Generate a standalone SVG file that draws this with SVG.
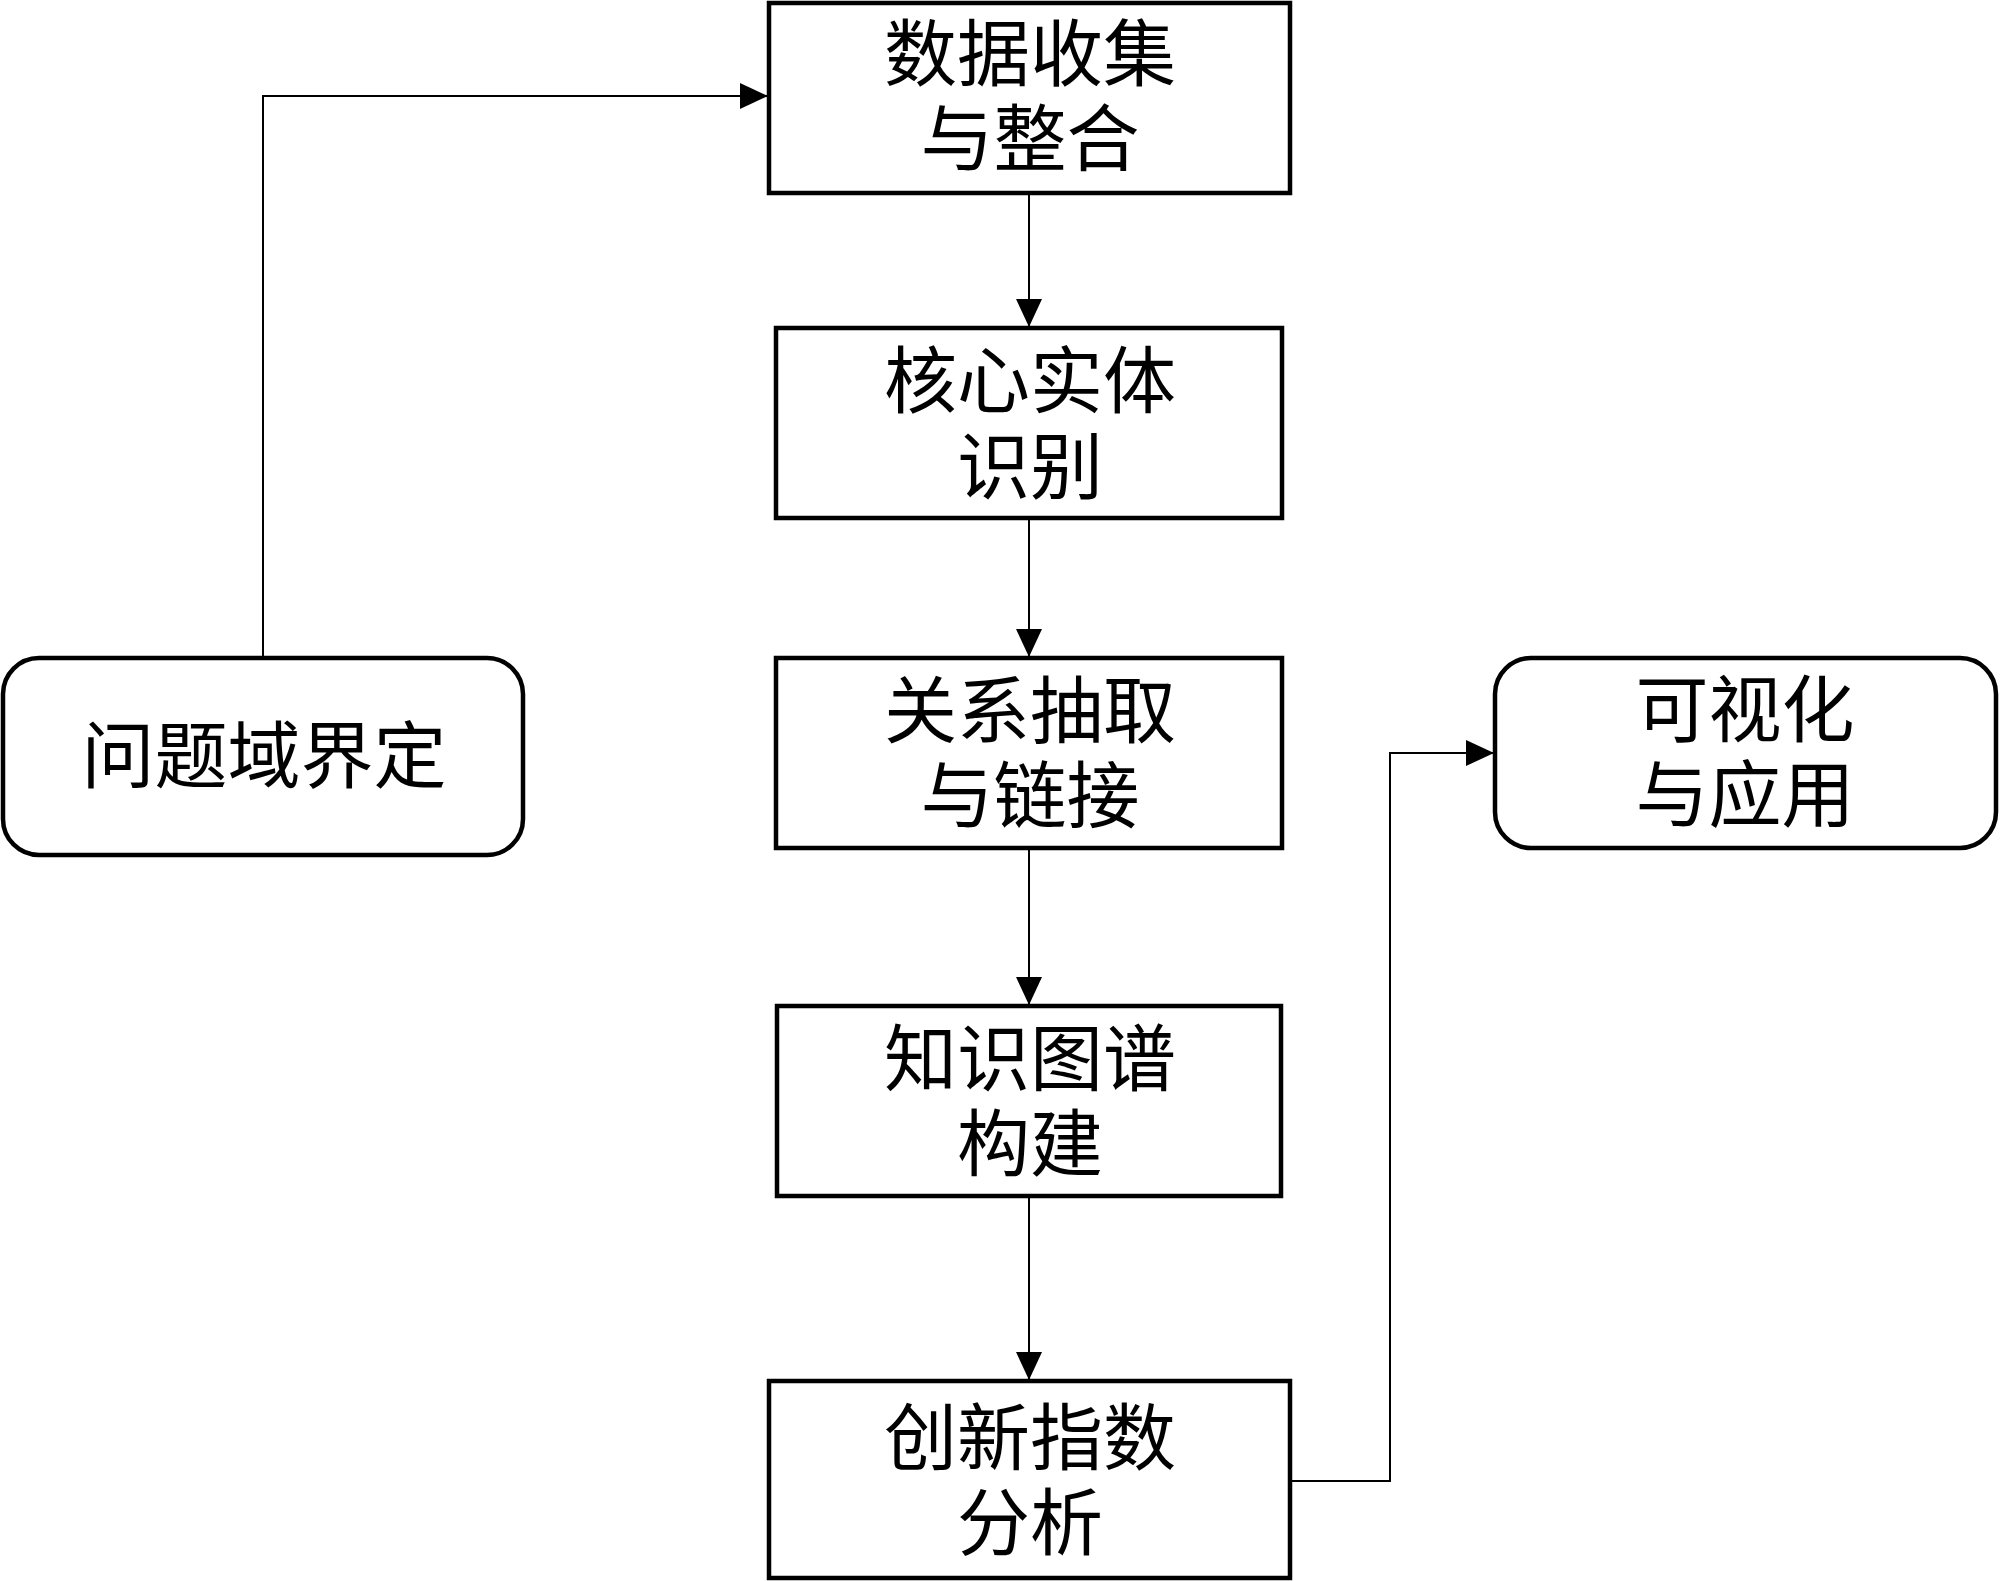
<svg xmlns="http://www.w3.org/2000/svg" width="2000" height="1581" viewBox="0 0 2000 1581">
<style>
.box{fill:#fff;stroke:#000;stroke-width:4.5}
.lbl{font-family:"Liberation Serif","Noto Sans CJK SC",serif;font-size:73px;fill:#000;text-anchor:middle;dominant-baseline:central}
.con{fill:none;stroke:#000;stroke-width:2}
</style>
<defs>
<marker id="arr" markerUnits="userSpaceOnUse" markerWidth="28" markerHeight="26" refX="27" refY="13" orient="auto">
<path d="M0,0 L28,13 L0,26 Z" fill="#000"/>
</marker>
</defs>
<rect width="2000" height="1581" fill="#fff"/>
<g id="connectors">
<path class="con" d="M263,658 V96 H767" marker-end="url(#arr)"/>
<path class="con" d="M1029,193 V326" marker-end="url(#arr)"/>
<path class="con" d="M1029,518 V656" marker-end="url(#arr)"/>
<path class="con" d="M1029,848 V1004" marker-end="url(#arr)"/>
<path class="con" d="M1029,1196 V1379" marker-end="url(#arr)"/>
<path class="con" d="M1290,1481 H1390 V753 H1493" marker-end="url(#arr)"/>
</g>
<g id="n1">
<rect class="box" x="769" y="3" width="521" height="190"/>
<text class="lbl" x="1030" y="55">数据收集</text>
<text class="lbl" x="1030" y="140">与整合</text>
</g>
<g id="n2">
<rect class="box" x="776" y="328" width="506" height="190"/>
<text class="lbl" x="1030" y="382">核心实体</text>
<text class="lbl" x="1030" y="468">识别</text>
</g>
<g id="n3">
<rect class="box" x="776" y="658" width="506" height="190"/>
<text class="lbl" x="1030" y="712">关系抽取</text>
<text class="lbl" x="1030" y="797">与链接</text>
</g>
<g id="n4">
<rect class="box" x="777" y="1006" width="504" height="190"/>
<text class="lbl" x="1030" y="1060">知识图谱</text>
<text class="lbl" x="1030" y="1145">构建</text>
</g>
<g id="n5">
<rect class="box" x="769" y="1381" width="521" height="197"/>
<text class="lbl" x="1030" y="1439">创新指数</text>
<text class="lbl" x="1030" y="1524">分析</text>
</g>
<g id="n0">
<rect class="box" x="3" y="658" width="520" height="197" rx="36" ry="36"/>
<text class="lbl" x="264" y="757">问题域界定</text>
</g>
<g id="n6">
<rect class="box" x="1495" y="658" width="501" height="190" rx="36" ry="36"/>
<text class="lbl" x="1745" y="711">可视化</text>
<text class="lbl" x="1745" y="796">与应用</text>
</g>
</svg>
